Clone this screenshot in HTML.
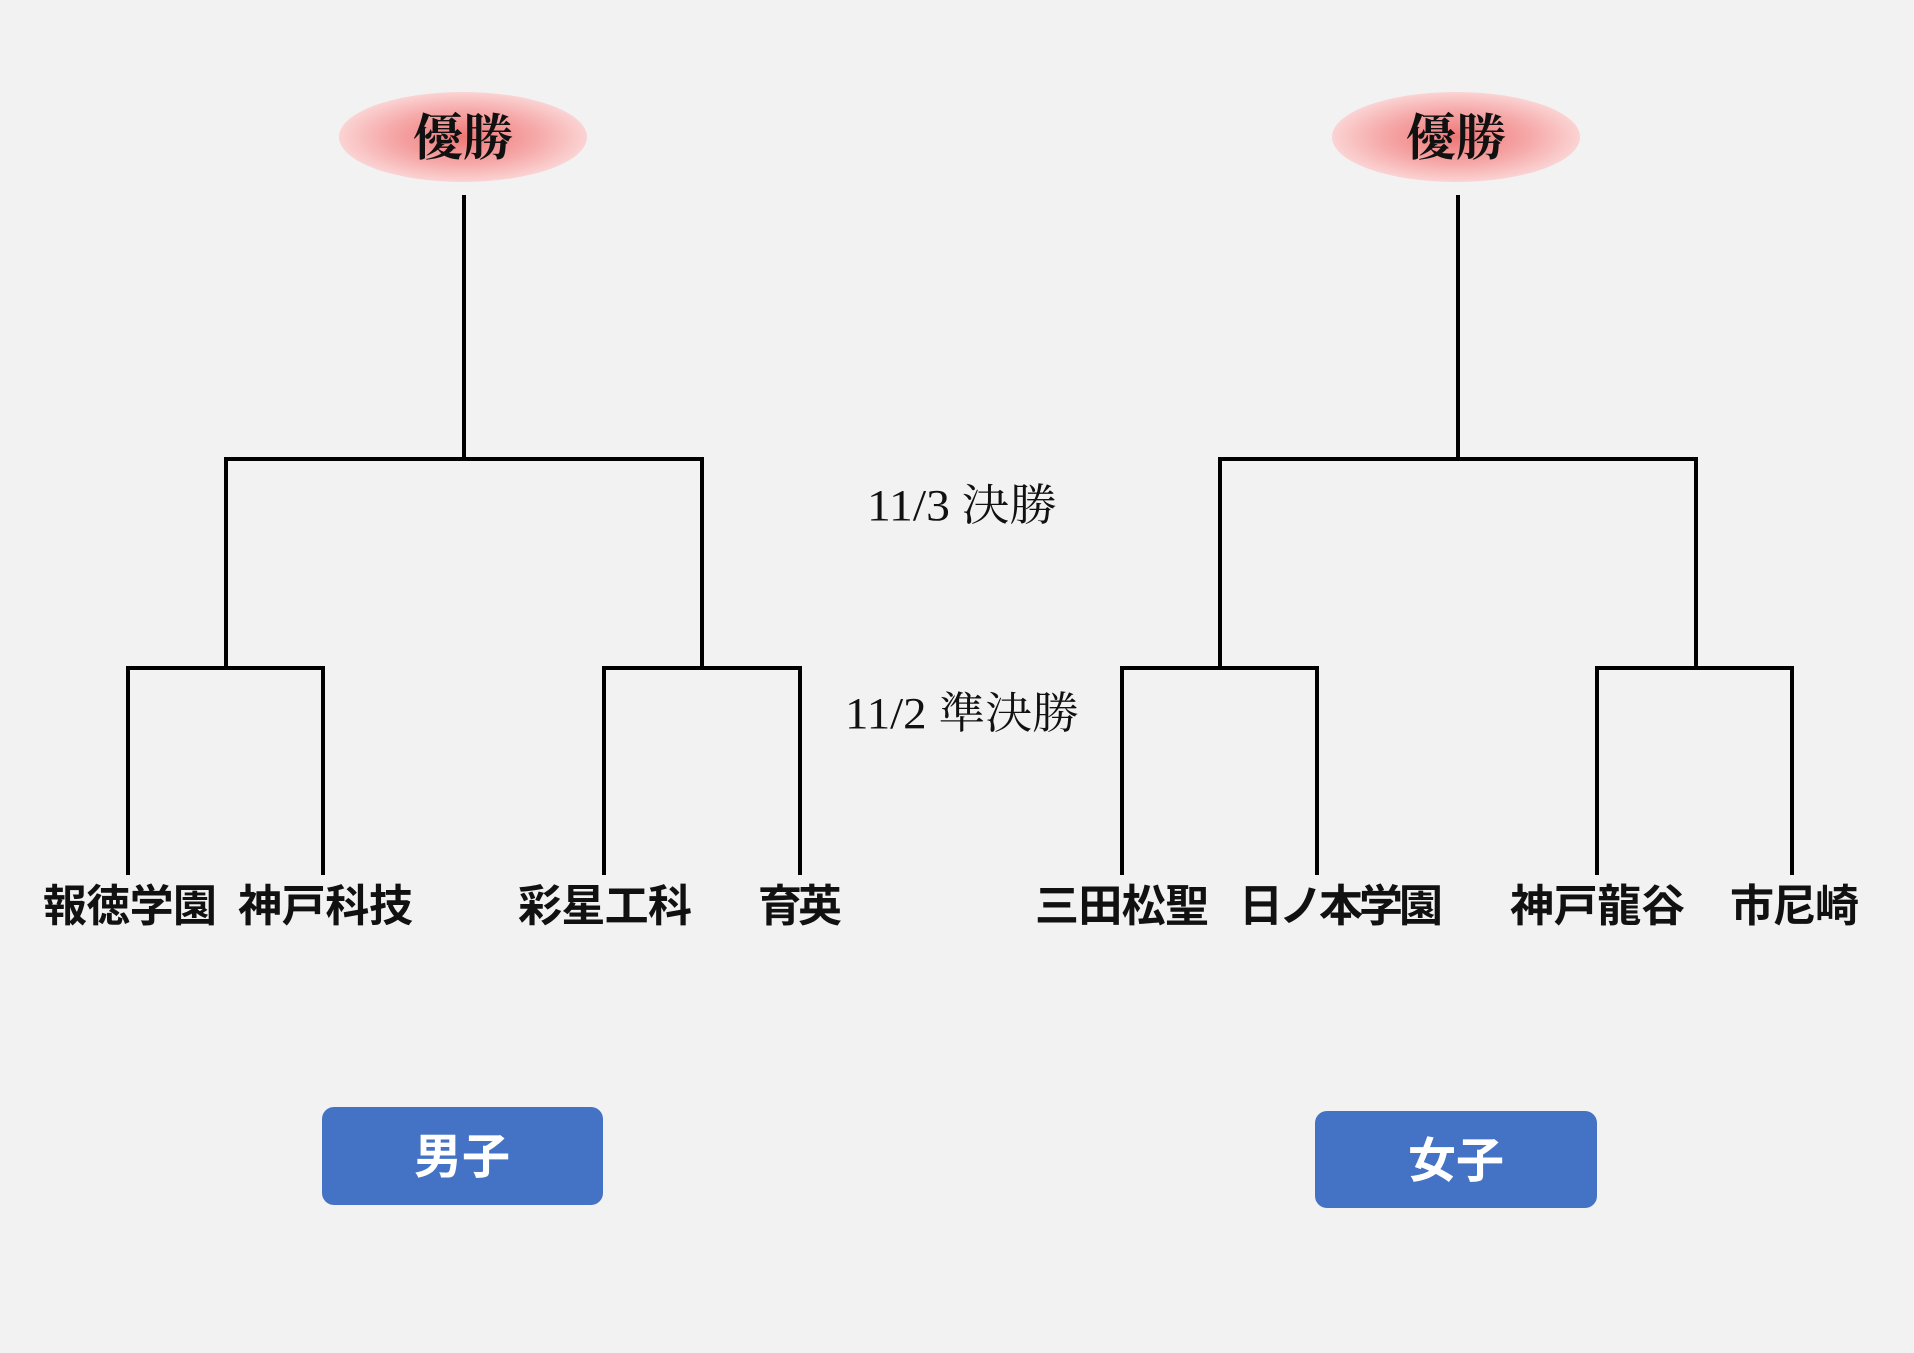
<!DOCTYPE html>
<html><head><meta charset="utf-8"><style>
html,body{margin:0;padding:0;background:#f2f2f2;}
svg{display:block;}
.sans{font-family:"Liberation Sans","Noto Sans CJK JP",sans-serif;}
.serif{font-family:"Liberation Serif","Noto Serif CJK SC",serif;}
</style></head><body>
<svg width="1914" height="1353" viewBox="0 0 1914 1353" xmlns="http://www.w3.org/2000/svg">
<defs>
<radialGradient id="g" cx="50%" cy="50%" r="50%">
<stop offset="0" stop-color="#ee7676"/>
<stop offset="0.6" stop-color="#f6a9a9"/>
<stop offset="1" stop-color="#fbd3d3"/>
</radialGradient>
</defs>
<rect width="1914" height="1353" fill="#f2f2f2"/>
<g fill="none" stroke="#000" stroke-width="4">
<path d="M464 195V459M226 668V459H702V668M128 875V668H323V875M604 875V668H800V875"/>
<path d="M1458 195V459M1220 668V459H1696V668M1122 875V668H1317V875M1597 875V668H1792V875"/>
</g>
<ellipse cx="463" cy="137" rx="124" ry="45" fill="url(#g)"/>
<ellipse cx="1456" cy="137" rx="124" ry="45" fill="url(#g)"/>
<g class="serif" font-size="50" font-weight="bold" text-anchor="middle" fill="#111">
<text x="463" y="155">優勝</text>
<text x="1456" y="155">優勝</text>
</g>
<g class="serif" font-size="44" fill="#111">
<text x="867" y="520" textLength="190" lengthAdjust="spacingAndGlyphs">11/3 決勝</text>
<text x="845" y="728" textLength="234" lengthAdjust="spacingAndGlyphs">11/2 準決勝</text>
</g>
<g class="sans" font-size="44" font-weight="bold" fill="#111">
<text x="43" y="921" textLength="174">報徳学園</text>
<text x="238" y="921" textLength="175">神戸科技</text>
<text x="518" y="921" textLength="174">彩星工科</text>
<text x="758" y="921" textLength="84">育英</text>
<text x="1035" y="921" textLength="174">三田松聖</text>
<text x="1239" y="921" textLength="204">日ノ本学園</text>
<text x="1510" y="921" textLength="175">神戸龍谷</text>
<text x="1730" y="921" textLength="129">市尼崎</text>
</g>
<rect x="322" y="1107" width="281" height="98" rx="12" fill="#4472c4"/>
<rect x="1315" y="1111" width="282" height="97" rx="12" fill="#4472c4"/>
<g class="sans" font-size="48" font-weight="bold" fill="#fff" text-anchor="middle">
<text x="462" y="1173">男子</text>
<text x="1456" y="1177">女子</text>
</g>
</svg>
</body></html>
